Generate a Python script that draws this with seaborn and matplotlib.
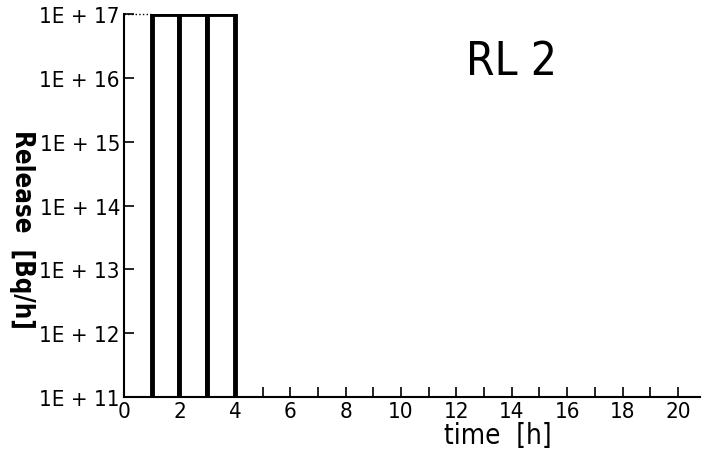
import numpy as np
import pandas as pd
import seaborn as sns
import matplotlib
matplotlib.use("Agg")
import matplotlib.pyplot as plt
from matplotlib.ticker import FixedLocator, FuncFormatter

# release per hour (bars span hour-1 .. hour)
hour_mid = [1.5, 2.5, 3.5]
release = [1e17, 1e17, 1e17]
x_major = [0, 2, 4, 6, 8, 10, 12, 14, 16, 18, 20]
y_ticks = [1e11, 1e12, 1e13, 1e14, 1e15, 1e16, 1e17]

df = pd.DataFrame({"hour": hour_mid, "release": release})

sns.set_style("ticks")
plt.rcParams['font.family'] = ['DejaVu Sans']
plt.rcParams['font.stretch'] = 'condensed'
plt.rcParams['text.color'] = 'black'
plt.rcParams['axes.labelcolor'] = 'black'

fig = plt.figure(figsize=(7.05, 4.6), dpi=100)
ax = fig.add_axes([0.176, 0.135, 0.817, 0.832])

sns.barplot(data=df, x="hour", y="release", native_scale=True, width=1,
            color="white", edgecolor="black", linewidth=3.5, ax=ax)
ax.set_yscale("log")
ax.set_ylim(1e11, 1e17)
ax.set_xlim(0, 20.8)

ax.xaxis.set_major_locator(FixedLocator(x_major))
ax.xaxis.set_minor_locator(FixedLocator(np.arange(1, 21, 2)))
ax.yaxis.set_major_locator(FixedLocator(y_ticks))
ax.yaxis.set_minor_locator(FixedLocator([]))
ax.yaxis.set_major_formatter(FuncFormatter(lambda v, p: "1E + %d" % round(np.log10(v))))
ax.tick_params(axis="both", which="both", direction="in", length=7, width=1.2,
               labelsize=16, colors="black")
ax.tick_params(axis="x", pad=3)
ax.tick_params(axis="y", pad=3)

for s in ["top", "right"]:
    ax.spines[s].set_visible(False)
for s in ["left", "bottom"]:
    ax.spines[s].set_linewidth(1.5)
    ax.spines[s].set_color("black")

ax.plot([0, 1], [1e17, 1e17], ls=":", color="black", lw=1, clip_on=False)

ax.set_xlabel("time  [h]", fontsize=20)
ax.set_ylabel("Release  [Bq/h]", fontsize=18.5, fontweight="bold", rotation=-90)
ax.xaxis.set_label_coords(0.648, -0.062)
ax.yaxis.set_label_coords(-0.20, 0.44)
ax.text(0.672, 0.877, "RL 2", transform=ax.transAxes, fontsize=33,
        ha="center", va="center")

fig.savefig("out.png", dpi=100)
